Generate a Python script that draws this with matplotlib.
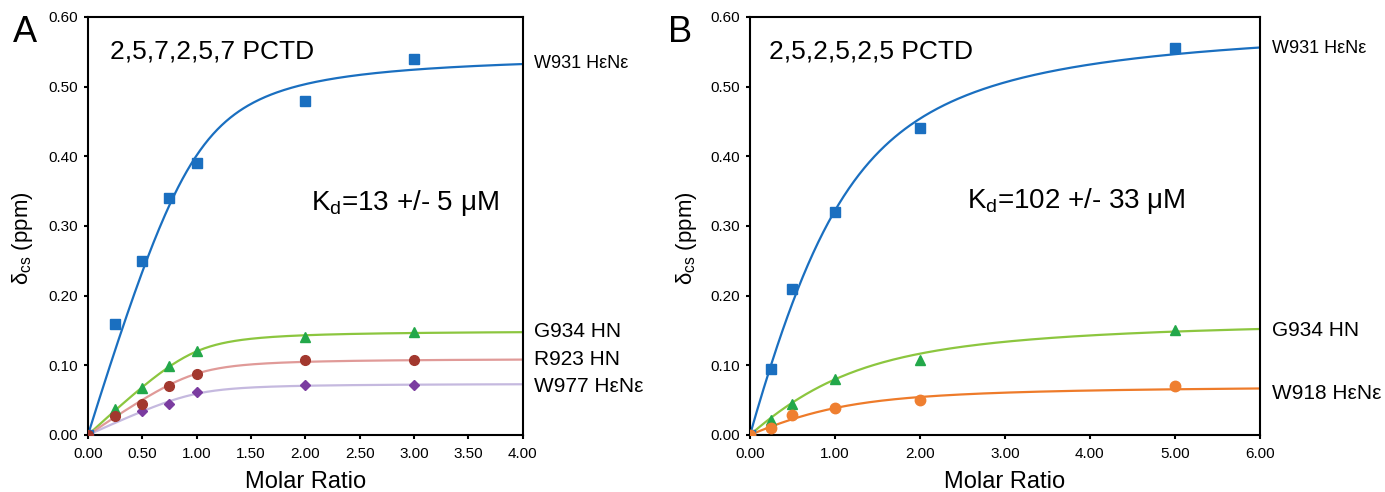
import numpy as np
import matplotlib
matplotlib.use("Agg")
import matplotlib.pyplot as plt

plt.rcParams['font.family'] = ['Liberation Sans', 'DejaVu Sans']
plt.rcParams['mathtext.fontset'] = 'custom'
plt.rcParams['mathtext.rm'] = 'Liberation Sans'
plt.rcParams['mathtext.it'] = 'Liberation Sans:italic'

# ---- data ----
# panel A : 2,5,7,2,5,7 PCTD
a_ratio = [0.0, 0.25, 0.5, 0.75, 1.0, 2.0, 3.0]
a_w931 = [0.0, 0.16, 0.25, 0.34, 0.39, 0.48, 0.54]
a_g934 = [0.0, 0.038, 0.068, 0.099, 0.12, 0.14, 0.148]
a_r923 = [0.0, 0.027, 0.045, 0.07, 0.088, 0.107, 0.107]
a_w977 = [0.0, 0.027, 0.035, 0.044, 0.062, 0.072, 0.072]

# panel B : 2,5,2,5,2,5 PCTD
b_ratio = [0.0, 0.25, 0.5, 1.0, 2.0, 5.0]
b_w931 = [0.0, 0.095, 0.21, 0.32, 0.44, 0.555]
b_g934 = [0.0, 0.022, 0.045, 0.08, 0.108, 0.15]
b_w918 = [0.0, 0.01, 0.029, 0.039, 0.05, 0.07]

# fit parameters of the drawn curves (max shift, Kd / [protein])
a_fit = {'w931': (0.55, 0.10), 'g934': (0.15, 0.05), 'r923': (0.11, 0.05), 'w977': (0.074, 0.05)}
b_fit = {'w931': (0.60, 0.40), 'g934': (0.17, 0.60), 'w918': (0.072, 0.40)}


def binding(r, dmax, k):
    # single site binding, quadratic form
    s = 1 + r + k
    return dmax * (s - np.sqrt(s ** 2 - 4 * r)) / 2


fig = plt.figure(figsize=(13.85, 4.92), dpi=100)
axA = fig.add_axes([0.0635, 0.1159, 0.314, 0.8496])
axB = fig.add_axes([0.5415, 0.1159, 0.368, 0.8496])

blue = '#1a6fc0'


def series(ax, x, y, fit, xmax, line_c, mark_c, marker, ms, label, label_y, lsize, z=3):
    xs = np.linspace(0, xmax, 300)
    ax.plot(xs, binding(xs, *fit), color=line_c, lw=1.6, zorder=2)
    ax.plot(x, y, ls='none', marker=marker, color=mark_c, ms=ms, mec=mark_c, zorder=z)
    ax.text(xmax * 1.025, label_y, label, fontsize=lsize, va='center', ha='left')


series(axA, a_ratio, a_w931, a_fit['w931'], 4.0, blue, blue, 's', 6.5, 'W931 H\u03b5N\u03b5', 0.533, 13)
series(axA, a_ratio, a_g934, a_fit['g934'], 4.0, '#8cc63f', '#23a84a', '^', 6.5, 'G934 HN', 0.148, 15)
series(axA, a_ratio, a_w977, a_fit['w977'], 4.0, '#c5b9df', '#7b3ca0', 'D', 5.5, 'W977 H\u03b5N\u03b5', 0.070, 15, z=2.5)
series(axA, a_ratio, a_r923, a_fit['r923'], 4.0, '#e09a98', '#a2382e', 'o', 7.0, 'R923 HN', 0.108, 15)

series(axB, b_ratio, b_w931, b_fit['w931'], 6.0, blue, blue, 's', 7.0, 'W931 H\u03b5N\u03b5', 0.555, 13)
series(axB, b_ratio, b_g934, b_fit['g934'], 6.0, '#8cc63f', '#23a84a', '^', 6.5, 'G934 HN', 0.150, 15)
series(axB, b_ratio, b_w918, b_fit['w918'], 6.0, '#ee7b2a', '#ef7f30', 'o', 7.5, 'W918 H\u03b5N\u03b5', 0.060, 15)

axA.text(0.2, 0.55, '2,5,7,2,5,7 PCTD', fontsize=19, va='center')
axA.text(2.05, 0.333, r'K$_\mathrm{d}$=13 +/- 5 $\mathrm{\mu}$M', fontsize=20, va='center')
axB.text(0.22, 0.55, '2,5,2,5,2,5 PCTD', fontsize=19, va='center')
axB.text(2.55, 0.336, r'K$_\mathrm{d}$=102 +/- 33 $\mathrm{\mu}$M', fontsize=20, va='center')

for ax, xmax, xt, ylx in [(axA, 4.0, np.arange(0, 4.01, 0.5), -0.122),
                          (axB, 6.0, np.arange(0, 6.01, 1.0), -0.100)]:
    ax.set_xlim(0, xmax)
    ax.set_ylim(0, 0.6)
    ax.set_xticks(xt)
    ax.set_xticklabels([f'{v:.2f}' for v in xt])
    ax.set_yticks(np.arange(0, 0.61, 0.1))
    ax.set_yticklabels([f'{v:.2f}' for v in np.arange(0, 0.61, 0.1)])
    ax.tick_params(direction='out', length=3, width=1.5, labelsize=11, pad=4)
    ax.tick_params(axis='x', pad=6)
    for sp in ax.spines.values():
        sp.set_linewidth(1.5)
    ax.set_xlabel('Molar Ratio', fontsize=17, labelpad=7)
    ax.set_ylabel(r'$\mathrm{\delta}_\mathrm{cs}$ (ppm)', fontsize=16)
    ax.yaxis.set_label_coords(ylx, 0.471)

fig.text(0.009, 0.915, 'A', fontsize=26)
fig.text(0.482, 0.915, 'B', fontsize=26)

fig.savefig('out.png', dpi=100)
